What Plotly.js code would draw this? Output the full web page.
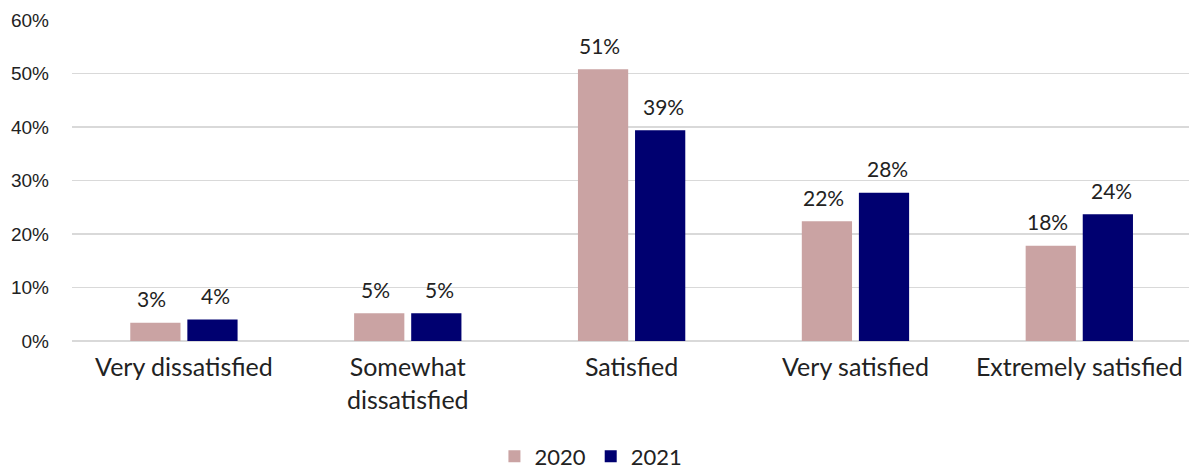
<!DOCTYPE html>
<html><head><meta charset="utf-8">
<script src="https://cdn.plot.ly/plotly-3.0.1.min.js"></script>
<style>html,body{margin:0;padding:0;background:#fff;}#chart{width:1189px;height:474px;}</style>
</head><body><div id="chart"></div>
<script>
const categories = ["Very dissatisfied", "Somewhat<br>dissatisfied", "Satisfied", "Very satisfied", "Extremely satisfied"];
const values2020 = [0.034, 0.052, 0.508, 0.224, 0.178];
const values2021 = [0.040, 0.052, 0.394, 0.277, 0.237];
const seriesNames = ["2020", "2021"];
const colors = ["#caa3a3", "#000070"];
const yTicks = [0, 0.1, 0.2, 0.3, 0.4, 0.5, 0.6];

const FONT = "Lato, 'Open Sans', sans-serif";
const series = [values2020, values2021];
const traces = series.map((vals, i) => ({
  type: 'bar', x: categories, y: vals, name: seriesNames[i],
  marker: {color: colors[i]}, hoverinfo: 'none'
}));

const annotations = [];
series.forEach((vals, i) => {
  vals.forEach((v, j) => {
    annotations.push({
      x: categories[j], y: v, xref: 'x', yref: 'y',
      text: Math.round(v * 100) + '%', showarrow: false,
      xshift: i === 0 ? -32 : 32, yshift: 24,
      font: {family: FONT, size: 21, color: '#222'}
    });
  });
});

const layout = {
  width: 1189, height: 474,
  margin: {l: 72, r: 0, t: 20, b: 133},
  paper_bgcolor: '#fff', plot_bgcolor: '#fff',
  barmode: 'group', bargap: 0.49, bargroupgap: 0.12,
  showlegend: true,
  legend: {orientation: 'h', x: 0.497, xanchor: 'center', xref: 'container', yref: 'container', y: 0.037, yanchor: 'middle',
           font: {family: FONT, size: 22, color: '#222'}, itemwidth: 30, traceorder: 'normal'},
  xaxis: {range: [-0.5, 4.49], showgrid: false, showline: false, zeroline: false, ticks: '',
          tickfont: {family: FONT, size: 25, color: '#222'}, ticklabelstandoff: 9},
  yaxis: {range: [0, 0.6], tickvals: yTicks, tickformat: '.0%', showgrid: true,
          gridcolor: '#d9d9d9', gridwidth: 1.5, zeroline: true, zerolinecolor: '#d9d9d9', zerolinewidth: 1.5,
          showline: false, ticks: '', ticklabelstandoff: 22,
          tickfont: {family: "'Liberation Sans', sans-serif", size: 19, color: '#222'}},
  annotations: annotations
};
Plotly.newPlot('chart', traces, layout, {displayModeBar: false, staticPlot: true});
</script></body></html>
